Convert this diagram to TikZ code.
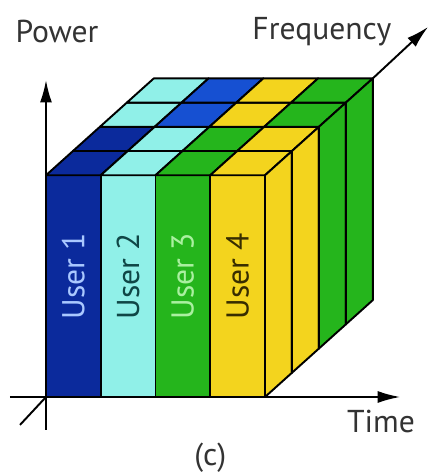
\documentclass[tikz,border=0pt]{standalone}
\usepackage{fontspec}
\setmainfont{PT Sans}
\usetikzlibrary{arrows.meta,positioning}
\definecolor{dkblue}{HTML}{0B2A9C}
\definecolor{mdblue}{HTML}{1650D2}
\definecolor{lcyan}{HTML}{90F0E8}
\definecolor{grn}{HTML}{25B51C}
\definecolor{yel}{HTML}{F3D41E}
\begin{document}
\begin{tikzpicture}[
	x=1.095cm, y=1.095cm,
	every node/.style={font=\fontsize{18}{20}\selectfont, text=black!80},
	cell/.style={draw, line width=1.1pt, line join=round},
	axis/.style={-{Latex[length=4.5mm,width=2.4mm]}, line width=1.1pt},
	userlabel/.style={rotate=90}
	]
	\useasboundingbox (-0.84,-1.443) rectangle (7.068,7.251);
	\def\dx{0.4925}
	\def\dy{0.4425}
	
	% front face
	\foreach \c/\col in {0/dkblue,1/lcyan,2/grn,3/yel}
		\draw[cell, fill=\col] (\c,0) rectangle ++(1,4.05);
	
	% top face, front row first
	\foreach \r/\a/\b/\e/\f in {0/dkblue/lcyan/grn/yel,1/dkblue/lcyan/grn/yel,2/lcyan/mdblue/yel/grn,3/lcyan/mdblue/yel/grn}
		\foreach \c/\col in {0/\a,1/\b,2/\e,3/\f}
			\draw[cell, fill=\col] ({\c+\r*\dx},{4.05+\r*\dy}) -- ++(1,0) -- ++(\dx,\dy) -- ++(-1,0) -- cycle;
	
	% right face
	\foreach \r/\col in {0/yel,1/yel,2/grn,3/grn}
		\draw[cell, fill=\col] ({4+\r*\dx},{\r*\dy}) -- ++(\dx,\dy) -- ++(0,4.05) -- ++(-\dx,-\dy) -- cycle;
	
	\node[userlabel, text={rgb,255:red,170;green,200;blue,255}] (u1) at (0.5,2.21) {User 1};
	\node[userlabel, text={rgb,255:red,15;green,70;blue,70}] (u2) at (1.5,2.21) {User 2};
	\node[userlabel, text={rgb,255:red,170;green,240;blue,160}] (u3) at (2.5,2.21) {User 3};
	\node[userlabel, text={rgb,255:red,55;green,45;blue,0}] (u4) at (3.5,2.21) {User 4};
	
	% axes
	\coordinate (O) at (0,0);
	\coordinate (Pbot) at (0,-0.6);
	\coordinate (Ptip) at (0,5.79);
	\coordinate (Tstart) at (-0.66,0);
	\coordinate (Ttip) at (6.47,0);
	\coordinate (Fstart) at (-0.475,-0.51);
	\coordinate (Fcorner) at ({4+4*\dx},{4.05+4*\dy});
	\coordinate (Ftip) at (6.98,6.76);
	
	\draw[axis] (Pbot) -- (Ptip);
	\draw[axis] (Tstart) -- (Ttip);
	\draw[line width=1.1pt] (Fstart) -- (O);
	\draw[axis] (Fcorner) -- (Ftip);
	
	\node (power) at (0.2,6.67) {Power};
	\node (freq) at (5.04,6.67) {Frequency};
	\node (time) at (6.12,-0.44) {Time};
	\node (cap) at (3.0,-1.11) {(c)};
	
\end{tikzpicture}
\end{document}
